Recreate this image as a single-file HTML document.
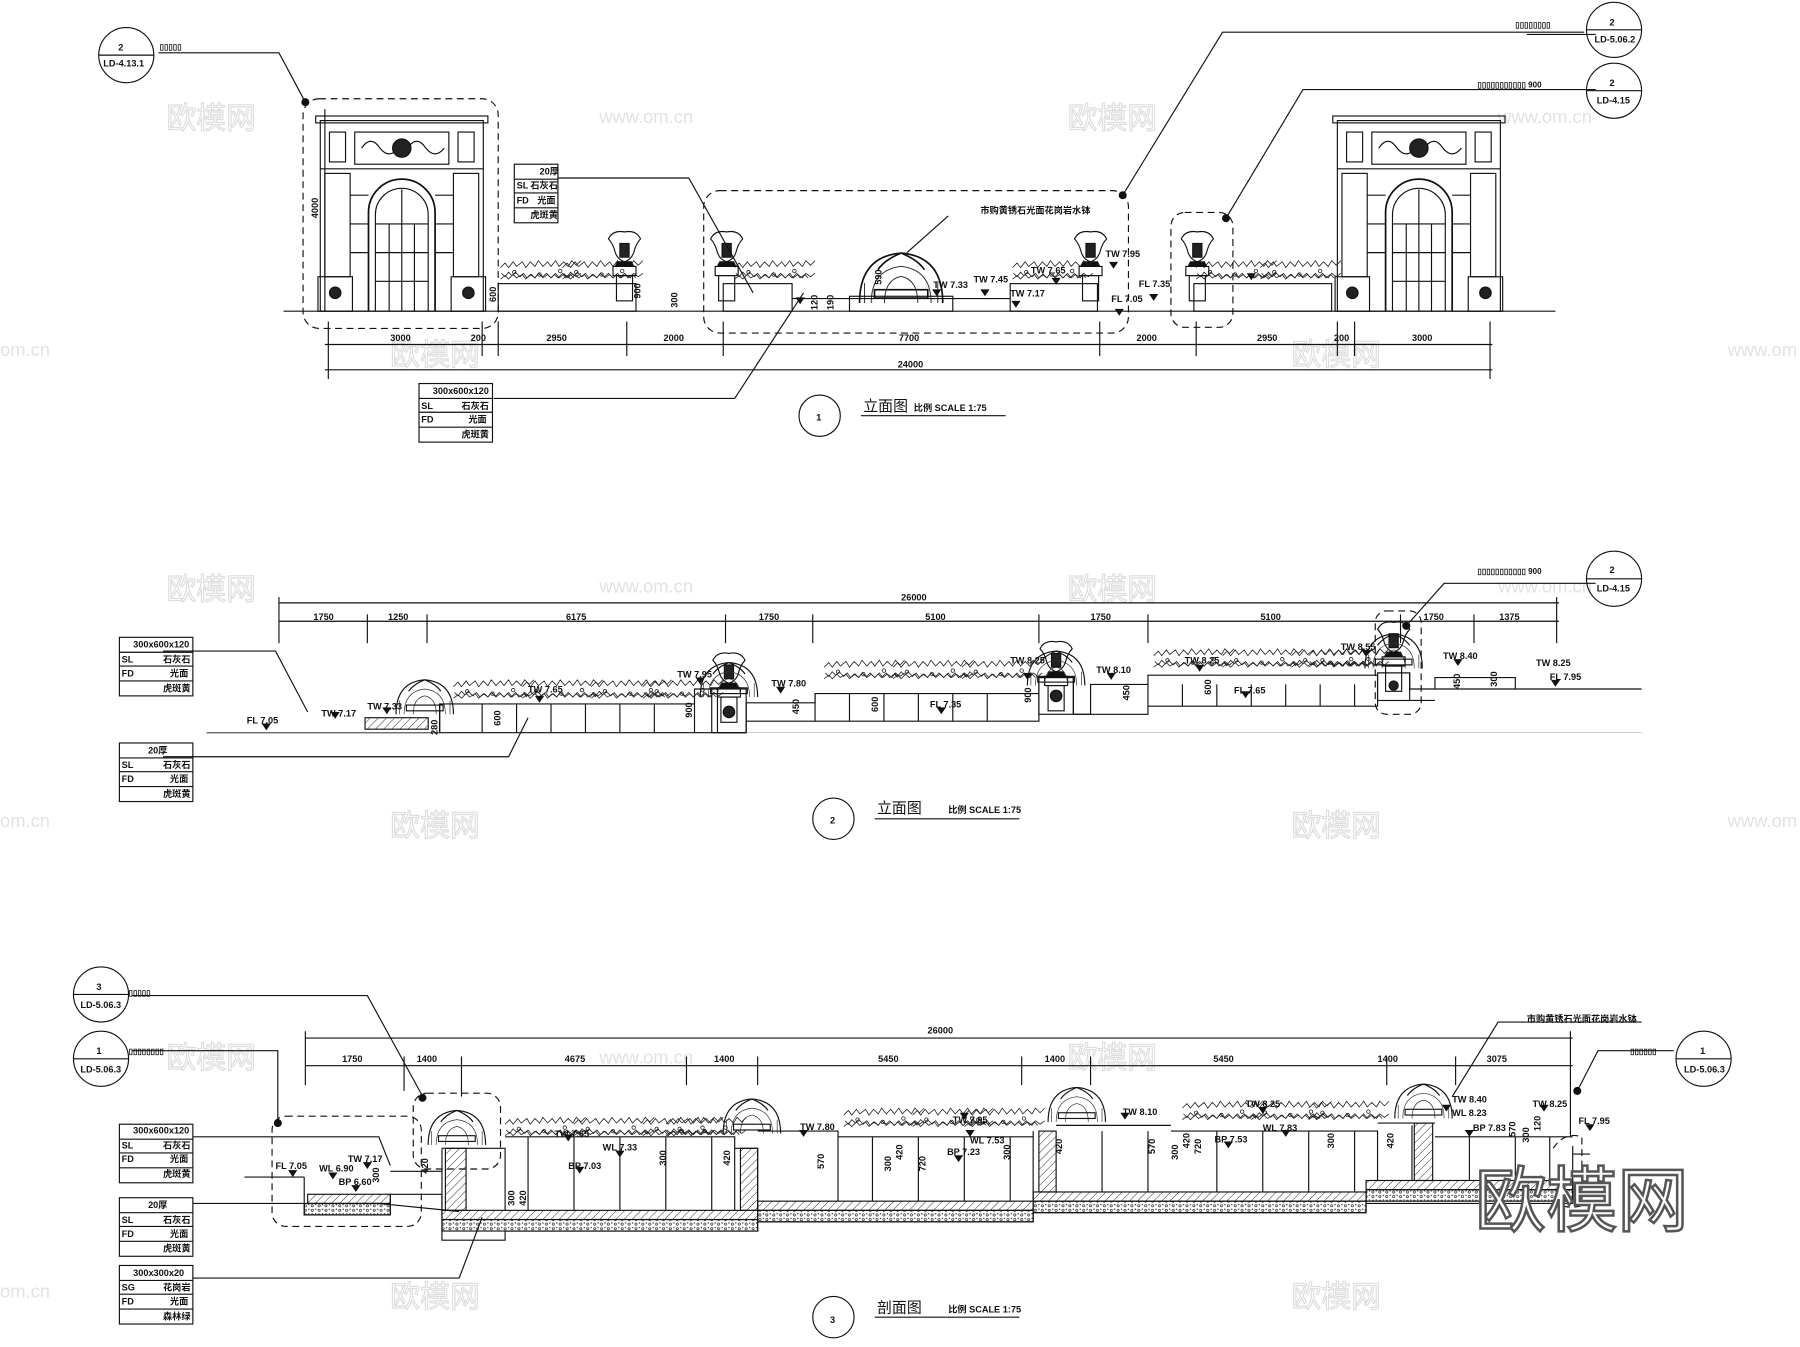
<!DOCTYPE html>
<html><head><meta charset="utf-8">
<style>
html,body{margin:0;padding:0;background:#fff;}
svg{display:block;}
text{font-family:"Liberation Sans","Noto Sans CJK SC",sans-serif;fill:#111;}
</style></head><body>
<svg width="1800" height="1347" viewBox="0 0 1568 1173" preserveAspectRatio="none" xmlns="http://www.w3.org/2000/svg">
<defs>
<pattern id="hat" width="5" height="5" patternUnits="userSpaceOnUse" patternTransform="rotate(45)"><line x1="0" y1="0" x2="0" y2="5" stroke="#222" stroke-width="0.8"/></pattern>
<pattern id="grav" width="6" height="4" patternUnits="userSpaceOnUse"><circle cx="2" cy="2" r="1" fill="none" stroke="#222" stroke-width="0.6"/><circle cx="5" cy="1" r="0.6" fill="#222"/></pattern>
<g id="gate">
 <rect x="0" y="10" width="142" height="166" fill="none" stroke="#111"/>
 <rect x="-4" y="6" width="150" height="6" fill="none" stroke="#111"/>
 <rect x="8" y="20" width="14" height="26" fill="none" stroke="#111"/>
 <rect x="120" y="20" width="14" height="26" fill="none" stroke="#111"/>
 <rect x="30" y="20" width="82" height="28" fill="none" stroke="#111"/>
 <path d="M36 34 q8-12 16 0 q8 10 16 0 M76 34 q8-12 16 0 q8 10 16 0" fill="none" stroke="#111"/>
 <circle cx="71" cy="34" r="8" fill="#222"/>
 <line x1="0" y1="52" x2="142" y2="52" stroke="#111"/>
 <rect x="4" y="56" width="22" height="90" fill="none" stroke="#111"/>
 <rect x="116" y="56" width="22" height="90" fill="none" stroke="#111"/>
 <rect x="-2" y="146" width="30" height="30" fill="none" stroke="#111"/>
 <rect x="114" y="146" width="30" height="30" fill="none" stroke="#111"/>
 <circle cx="13" cy="160" r="5" fill="#222"/><circle cx="129" cy="160" r="5" fill="#222"/>
 <path d="M42 176 V90 A29 29 0 0 1 100 90 V176" fill="none" stroke="#111" stroke-width="1.5"/>
 <path d="M48 176 V92 A23 23 0 0 1 94 92 V176" fill="none" stroke="#111"/>
 <line x1="60" y1="100" x2="60" y2="176" stroke="#111"/><line x1="71" y1="70" x2="71" y2="176" stroke="#111"/><line x1="82" y1="100" x2="82" y2="176" stroke="#111"/>
 <line x1="48" y1="100" x2="94" y2="100" stroke="#111"/><line x1="48" y1="125" x2="94" y2="125" stroke="#111"/><line x1="48" y1="150" x2="94" y2="150" stroke="#111"/>
 <line x1="26" y1="75" x2="42" y2="75" stroke="#111"/><line x1="26" y1="100" x2="42" y2="100" stroke="#111"/><line x1="26" y1="125" x2="42" y2="125" stroke="#111"/>
 <line x1="100" y1="75" x2="116" y2="75" stroke="#111"/><line x1="100" y1="100" x2="116" y2="100" stroke="#111"/><line x1="100" y1="125" x2="116" y2="125" stroke="#111"/>
</g>
<g id="urn">
 <path d="M-14 0 q4-8 14-6 q10-2 14 6 q-4 4 -6 12 q-2 6 -8 8 q-6-2 -8-8 q-2-8-6-12z" fill="none" stroke="#111"/>
 <path d="M-4 4 h8 v12 h-8z" fill="#222"/>
 <path d="M-6 20 h12 l2 4 h-16z" fill="#111"/>
 <rect x="-10" y="24" width="20" height="8" fill="none" stroke="#111"/>
 <rect x="-7" y="32" width="14" height="22" fill="none" stroke="#111"/>
</g>
<g id="fount">
 <path d="M-25 22 q0-28 25-30 q25 2 25 30" fill="none" stroke="#111"/>
 <path d="M-18 22 q0-20 18-22 q18 2 18 22 M-10 22 q0-14 10-16 q10 2 10 16 M-22 10 v12 M22 10 v12" fill="none" stroke="#333" stroke-width="0.6"/>
 <path d="M0 -8 q-10 4-14 10 M0 -8 q10 4 14 10" fill="none" stroke="#111"/>
 <rect x="-16" y="14" width="32" height="5" fill="none" stroke="#111"/>
</g>
<g id="shrub" fill="none" stroke="#222" stroke-width="0.7">
 <path d="M0 3 l4-4 3 4 4-5 3 4 5-4 3 5 4-5 4 4 3-5 4 5 4-4 3 4 4-5 3 5 4-4 4 4 3-5 4 4 4-4"/>
 <path d="M1 8 l3 3 3-4 3 3 3-3 4 4 3-3 3 4 4-3 3 3 3-4 4 3 3-3 4 4 3-3 3 3 4-4 3 4 4-3 3 3"/>
 <path d="M0 13 l4-3 3 3 4-4 3 3 5-3 3 4 4-4 4 3 3-4 4 4 4-3 3 3 4-4 3 4 4-3 4 3 3-4 4 3 4-3"/>
 <circle cx="12" cy="7" r="1.5"/><circle cx="34" cy="9" r="1.5"/><circle cx="52" cy="6" r="1.5"/>
</g>
</defs>

<g font-family="Liberation Sans,Noto Sans CJK SC,sans-serif" font-size="26">
<text x="145" y="112" style="fill:none;stroke:#ddd">欧模网</text><text x="930" y="112" style="fill:none;stroke:#ddd">欧模网</text>
<text x="340" y="318" style="fill:none;stroke:#ddd">欧模网</text><text x="1125" y="318" style="fill:none;stroke:#ddd">欧模网</text>
<text x="145" y="522" style="fill:none;stroke:#ddd">欧模网</text><text x="930" y="522" style="fill:none;stroke:#ddd">欧模网</text>
<text x="340" y="728" style="fill:none;stroke:#ddd">欧模网</text><text x="1125" y="728" style="fill:none;stroke:#ddd">欧模网</text>
<text x="145" y="930" style="fill:none;stroke:#ddd">欧模网</text><text x="930" y="930" style="fill:none;stroke:#ddd">欧模网</text>
<text x="340" y="1138" style="fill:none;stroke:#ddd">欧模网</text><text x="1125" y="1138" style="fill:none;stroke:#ddd">欧模网</text>
</g>
<g font-size="16">
<text x="522" y="107" style="fill:#e2e2e2">www.om.cn</text><text x="1305" y="107" style="fill:#e2e2e2">www.om.cn</text>
<text x="0" y="310" style="fill:#e2e2e2">om.cn</text><text x="1505" y="310" style="fill:#e2e2e2">www.om</text>
<text x="522" y="516" style="fill:#e2e2e2">www.om.cn</text><text x="1305" y="516" style="fill:#e2e2e2">www.om.cn</text>
<text x="0" y="720" style="fill:#e2e2e2">om.cn</text><text x="1505" y="720" style="fill:#e2e2e2">www.om</text>
<text x="522" y="926" style="fill:#e2e2e2">www.om.cn</text><text x="0" y="1130" style="fill:#e2e2e2">om.cn</text>
</g>

<g stroke="#111" fill="none" stroke-width="1">
<!-- ===== SECTION 1 ===== -->
<line x1="247" y1="271" x2="1355" y2="271"/>
<use href="#gate" x="279" y="95"/>
<use href="#gate" x="1165" y="95"/>
<rect x="434" y="247" width="120" height="24"/>
<use href="#shrub" x="436" y="230"/><use href="#shrub" x="490" y="230"/>
<use href="#urn" x="544" y="208"/>
<rect x="1040" y="247" width="120" height="24"/>
<use href="#shrub" x="1042" y="230"/><use href="#shrub" x="1098" y="230"/>
<use href="#urn" x="1043" y="208"/>
<rect x="630" y="247" width="60" height="24"/>
<use href="#urn" x="633" y="208"/>
<use href="#shrub" x="640" y="230"/>
<rect x="880" y="247" width="76" height="24"/>
<use href="#urn" x="950" y="208"/>
<use href="#shrub" x="882" y="230"/>
<use href="#fount" transform="translate(785 232) scale(1.45)"/>
<rect x="740" y="258" width="90" height="13"/>
<line x1="690" y1="260" x2="880" y2="260"/>
<rect x="264" y="86" width="170" height="200" rx="14" stroke-dasharray="6,4"/>
<rect x="613" y="166" width="370" height="124" rx="14" stroke-dasharray="6,4"/>
<rect x="1020" y="185" width="54" height="100" rx="12" stroke-dasharray="6,4"/>
<line x1="283" y1="300" x2="1300" y2="300"/>
<line x1="283" y1="322" x2="1300" y2="322"/>
<path d="M286 280 V330 M420 280 V310 M434 280 V310 M546 280 V310 M630 280 V310 M958 280 V310 M1042 280 V310 M1165 280 V310 M1180 280 V310 M1298 280 V330"/>
<line x1="283" y1="95" x2="283" y2="271"/>
<path d="M138 46 H243 L266 89"/>
<path d="M1390 30 H1330 M1380 28 L1065 28 L978 170"/>
<path d="M1390 78 H1135 L1068 190"/>
<path d="M486 155 H600 L656 255"/>
<path d="M430 347 H640 L700 255"/>
<path d="M826 188 L790 220"/>
<circle cx="266" cy="89" r="3" fill="#111"/><circle cx="978" cy="170" r="3" fill="#111"/><circle cx="1068" cy="190" r="3" fill="#111"/>
<circle cx="110" cy="48" r="24"/><line x1="86" y1="48" x2="134" y2="48"/>
<circle cx="1406" cy="26" r="24"/><line x1="1382" y1="26" x2="1430" y2="26"/>
<circle cx="1406" cy="79" r="24"/><line x1="1382" y1="79" x2="1430" y2="79"/>
<rect x="448" y="143" width="38" height="51"/><path d="M448 156 H486 M448 168 H486 M448 181 H486"/>
<rect x="365" y="334" width="64" height="51"/><path d="M365 347 H429 M365 359 H429 M365 372 H429"/>
<circle cx="714" cy="362" r="18"/><line x1="750" y1="362" x2="876" y2="362"/>

<!-- ===== SECTION 2 ===== -->
<path d="M180 638 H383 V613 H605 V600 H625 V638 H650 V612 H710 V604 H905 V590 H935 V622 H950 V596 H1000 V588 H1200 V586 H1228 V600 H1250 V590 H1320 V600 H1430"/>
<line x1="180" y1="638" x2="1430" y2="638" stroke-width="0.5" stroke="#999"/>
<line x1="383" y1="638" x2="650" y2="638"/>
<path d="M383 613 V638 M605 613 V638"/>
<path d="M650 628 H710 V604 M710 628 V604 M710 628 H905 V604 M935 622 H1000 V596 M1000 615 H1200 V588 M1228 610 H1250 M1250 600 H1320"/>
<path d="M420 613 V638 M450 613 V638 M480 613 V638 M510 613 V638 M540 613 V638 M570 613 V638 M740 604 V628 M770 604 V628 M800 604 V628 M830 604 V628 M860 604 V628 M1030 596 V615 M1060 596 V615 M1090 596 V615 M1120 596 V615 M1150 596 V615 M1180 596 V615"/>
<rect x="620" y="600" width="30" height="38"/><rect x="905" y="590" width="30" height="32"/><rect x="1200" y="586" width="28" height="24"/>
<circle cx="635" cy="620" r="5" fill="#222"/><circle cx="920" cy="606" r="5" fill="#222"/><circle cx="1214" cy="597" r="4" fill="#222"/>
<use href="#urn" x="635" y="575"/><use href="#urn" x="920" y="565"/><use href="#urn" x="1214" y="548"/>
<use href="#fount" x="370" y="600"/><use href="#fount" x="635" y="585"/><use href="#fount" x="920" y="575"/><use href="#fount" x="1214" y="560"/>
<rect x="318" y="625" width="55" height="10" fill="url(#hat)"/>
<use href="#shrub" x="395" y="595"/><use href="#shrub" x="455" y="595"/><use href="#shrub" x="515" y="595"/><use href="#shrub" x="560" y="595"/>
<use href="#shrub" x="718" y="578"/><use href="#shrub" x="778" y="578"/><use href="#shrub" x="838" y="578"/>
<use href="#shrub" x="1005" y="568"/><use href="#shrub" x="1065" y="568"/><use href="#shrub" x="1125" y="568"/><use href="#shrub" x="1140" y="568"/>
<rect x="1198" y="532" width="40" height="90" rx="10" stroke-dasharray="6,4"/>
<line x1="243" y1="525" x2="1358" y2="525"/>
<line x1="243" y1="541" x2="1358" y2="541"/>
<path d="M243 520 V560 M320 535 V560 M372 535 V560 M632 535 V560 M708 535 V560 M905 535 V560 M1000 535 V560 M1220 535 V560 M1284 535 V560 M1356 520 V560"/>
<path d="M142 567 H240 L268 620"/>
<path d="M142 659 H443 L460 625"/>
<path d="M1390 508 H1258 L1225 545"/><circle cx="1225" cy="545" r="3" fill="#111"/>
<circle cx="1406" cy="504" r="24"/><line x1="1382" y1="504" x2="1430" y2="504"/>
<rect x="104" y="555" width="64" height="51"/><path d="M104 568 H168 M104 580 H168 M104 593 H168"/>
<rect x="104" y="647" width="64" height="51"/><path d="M104 660 H168 M104 672 H168 M104 685 H168"/>
<circle cx="726" cy="713" r="18"/><line x1="762" y1="713" x2="888" y2="713"/>

<!-- ===== SECTION 3 ===== -->
<path d="M213 1025 H265 M265 1025 V1058 H340 V1040 H385 V1080 H440 V1072 H660 V1064 H900 V1056 H1190 V1048 H1370 V1005 H1385 M1370 998 V1030"/>
<rect x="265" y="1048" width="75" height="10" fill="url(#grav)"/>
<rect x="385" y="1062" width="275" height="10" fill="url(#grav)"/>
<rect x="660" y="1054" width="240" height="10" fill="url(#grav)"/>
<rect x="900" y="1046" width="290" height="10" fill="url(#grav)"/>
<rect x="1190" y="1036" width="180" height="10" fill="url(#grav)"/>
<rect x="385" y="1054" width="275" height="8" fill="url(#hat)"/>
<rect x="660" y="1046" width="240" height="8" fill="url(#hat)"/>
<rect x="900" y="1038" width="290" height="8" fill="url(#hat)"/>
<rect x="1190" y="1028" width="180" height="8" fill="url(#hat)"/>
<rect x="268" y="1040" width="72" height="8" fill="url(#hat)"/>
<path d="M340 1020 H385 M385 1000 V1054 M440 990 H640 V1054 M660 985 H730 V1046 M730 990 H900 M920 980 H1020 M1020 985 H1180 V1038 M1200 978 H1250 M1250 990 H1370"/>
<path d="M385 1000 H440 V1054 M640 1000 H660 V1054 M900 985 V1046 M1180 985 H1200 V1028 M1230 980 V1028"/>
<path d="M460 990 V1054 M500 990 V1054 M540 990 V1054 M580 990 V1054 M620 990 V1054 M760 990 V1046 M800 990 V1046 M840 990 V1046 M880 990 V1046 M960 985 V1038 M1000 985 V1038 M1060 985 V1038 M1100 985 V1038 M1140 985 V1038 M1280 990 V1028 M1320 990 V1028 M1350 990 V1028"/>
<rect x="388" y="1000" width="18" height="54" fill="url(#hat)"/>
<rect x="645" y="1000" width="15" height="54" fill="url(#hat)"/>
<rect x="905" y="985" width="15" height="53" fill="url(#hat)"/>
<rect x="1232" y="978" width="16" height="50" fill="url(#hat)"/>
<use href="#fount" x="398" y="975"/><use href="#fount" x="655" y="965"/><use href="#fount" x="938" y="955"/><use href="#fount" x="1240" y="952"/>
<use href="#shrub" x="440" y="976"/><use href="#shrub" x="500" y="976"/><use href="#shrub" x="560" y="976"/><use href="#shrub" x="580" y="976"/>
<use href="#shrub" x="735" y="968"/><use href="#shrub" x="795" y="968"/><use href="#shrub" x="840" y="968"/>
<use href="#shrub" x="1030" y="962"/><use href="#shrub" x="1090" y="962"/><use href="#shrub" x="1140" y="962"/>
<rect x="237" y="972" width="130" height="96" rx="12" stroke-dasharray="6,4"/>
<rect x="360" y="952" width="76" height="66" rx="12" stroke-dasharray="6,4"/>
<path d="M1353 1000 q10-15 25-10 V1050 q-20 5-25-10" stroke-dasharray="6,4"/>
<line x1="266" y1="904" x2="1370" y2="904"/>
<line x1="266" y1="928" x2="1370" y2="928"/>
<path d="M266 898 V945 M352 920 V950 M402 920 V955 M598 920 V945 M660 920 V945 M890 920 V945 M950 920 V945 M1208 920 V945 M1268 920 V945 M1368 898 V990"/>
<path d="M115 867 H320 L370 958"/><circle cx="368" cy="956" r="3" fill="#111"/>
<path d="M115 915 H242 L242 980"/><circle cx="242" cy="978" r="3" fill="#111"/>
<path d="M1458 915 H1392 L1374 950"/><circle cx="1374" cy="950" r="3" fill="#111"/>
<path d="M1430 890 H1305 L1265 955"/>
<path d="M168 990 H330 L340 1015"/>
<path d="M168 1048 H330 L400 1055"/>
<path d="M168 1113 H400 L420 1060"/>
<circle cx="88" cy="866" r="24"/><line x1="64" y1="866" x2="112" y2="866"/>
<circle cx="88" cy="922" r="24"/><line x1="64" y1="922" x2="112" y2="922"/>
<circle cx="1484" cy="922" r="24"/><line x1="1460" y1="922" x2="1508" y2="922"/>
<rect x="104" y="979" width="64" height="51"/><path d="M104 992 H168 M104 1004 H168 M104 1017 H168"/>
<rect x="104" y="1043" width="64" height="51"/><path d="M104 1056 H168 M104 1068 H168 M104 1081 H168"/>
<rect x="104" y="1102" width="64" height="51"/><path d="M104 1115 H168 M104 1127 H168 M104 1140 H168"/>
<circle cx="726" cy="1147" r="18"/><line x1="762" y1="1147" x2="888" y2="1147"/>
</g>

<g fill="#111">
<path d="M816 258 l4-6 h-8z M858 258 l4-6 h-8z M885 268 l4-6 h-8z M920 248 l4-6 h-8z M970 234 l4-6 h-8z M1005 262 l4-6 h-8z M975 275 l4-6 h-8z M1090 244 l4-6 h-8z M697 265 l4-6 h-8z"/>
<path d="M232 636 l4-6 h-8z M292 626 l4-6 h-8z M337 622 l4-6 h-8z M470 612 l4-6 h-8z M610 596 l4-6 h-8z M680 604 l4-6 h-8z M820 622 l4-6 h-8z M895 592 l4-6 h-8z M968 592 l4-6 h-8z M1045 585 l4-6 h-8z M1085 608 l4-6 h-8z M1190 572 l4-6 h-8z M1270 580 l4-6 h-8z M1355 598 l4-6 h-8z"/>
<path d="M255 1025 l4-6 h-8z M290 1027 l4-6 h-8z M310 1038 l4-6 h-8z M320 1018 l4-6 h-8z M495 994 l4-6 h-8z M505 1022 l4-6 h-8z M540 1008 l4-6 h-8z M700 990 l4-6 h-8z M835 1012 l4-6 h-8z M845 990 l4-6 h-8z M840 975 l4-6 h-8z M980 975 l4-6 h-8z M1070 1000 l4-6 h-8z M1120 990 l4-6 h-8z M1100 970 l4-6 h-8z M1260 968 l4-6 h-8z M1280 990 l4-6 h-8z M1345 968 l4-6 h-8z M1385 985 l4-6 h-8z"/>
</g>

<g font-size="8" font-weight="bold">
<text x="103" y="44">2</text><text x="90" y="58">LD-4.13.1</text>
<text x="139" y="43" font-size="7">▯▯▯▯▯</text>
<text x="1402" y="22">2</text><text x="1389" y="37">LD-5.06.2</text>
<text x="1320" y="24" font-size="7">▯▯▯▯▯▯▯▯</text>
<text x="1402" y="75">2</text><text x="1391" y="90">LD-4.15</text>
<text x="1287" y="76" font-size="7">▯▯▯▯▯▯▯▯▯▯▯ 900</text>
<text x="277" y="190" transform="rotate(-90 277 190)">4000</text>
<text x="470" y="152">20厚</text>
<text x="450" y="164">SL</text><text x="462" y="164">石灰石</text>
<text x="450" y="177">FD</text><text x="468" y="177">光面</text>
<text x="462" y="190">虎斑黄</text>
<text x="377" y="343">300x600x120</text>
<text x="367" y="356">SL</text><text x="402" y="356">石灰石</text>
<text x="367" y="368">FD</text><text x="408" y="368">光面</text>
<text x="402" y="381">虎斑黄</text>
<text x="854" y="186">市购黄锈石光面花岗岩水钵</text>
<text x="813" y="251">TW 7.33</text><text x="848" y="246">TW 7.45</text><text x="898" y="238">TW 7.65</text>
<text x="963" y="224">TW 7.95</text><text x="992" y="250">FL 7.35</text><text x="880" y="258">TW 7.17</text><text x="968" y="263">FL 7.05</text>
<text x="432" y="263" transform="rotate(-90 432 263)">600</text>
<text x="558" y="260" transform="rotate(-90 558 260)">900</text>
<text x="590" y="268" transform="rotate(-90 590 268)">300</text>
<text x="712" y="270" transform="rotate(-90 712 270)">120</text>
<text x="726" y="270" transform="rotate(-90 726 270)">190</text>
<text x="768" y="248" transform="rotate(-90 768 248)">590</text>
<text x="340" y="297">3000</text><text x="410" y="297">200</text><text x="476" y="297">2950</text><text x="578" y="297">2000</text>
<text x="783" y="297">7700</text><text x="990" y="297">2000</text><text x="1095" y="297">2950</text><text x="1162" y="297">200</text><text x="1230" y="297">3000</text>
<text x="782" y="320">24000</text>
<text x="711" y="366">1</text>
<text x="752" y="358" font-size="13" font-weight="normal">立面图</text><text x="796" y="358">比例 SCALE 1:75</text>

<text x="785" y="523">26000</text>
<text x="273" y="540">1750</text><text x="338" y="540">1250</text><text x="493" y="540">6175</text><text x="661" y="540">1750</text>
<text x="806" y="540">5100</text><text x="950" y="540">1750</text><text x="1098" y="540">5100</text><text x="1240" y="540">1750</text><text x="1306" y="540">1375</text>
<text x="1402" y="499">2</text><text x="1391" y="515">LD-4.15</text>
<text x="1287" y="500" font-size="7">▯▯▯▯▯▯▯▯▯▯▯ 900</text>
<text x="116" y="564">300x600x120</text>
<text x="106" y="577">SL</text><text x="142" y="577">石灰石</text>
<text x="106" y="589">FD</text><text x="148" y="589">光面</text><text x="142" y="602">虎斑黄</text>
<text x="129" y="656">20厚</text>
<text x="106" y="669">SL</text><text x="142" y="669">石灰石</text>
<text x="106" y="681">FD</text><text x="148" y="681">光面</text><text x="142" y="694">虎斑黄</text>
<text x="215" y="630">FL 7.05</text><text x="280" y="624">TW 7.17</text><text x="320" y="618">TW 7.33</text><text x="460" y="603">TW 7.65</text>
<text x="590" y="590">TW 7.95</text><text x="672" y="598">TW 7.80</text><text x="810" y="616">FL 7.35</text><text x="880" y="578">TW 8.25</text>
<text x="955" y="586">TW 8.10</text><text x="1032" y="578">TW 8.25</text><text x="1075" y="604">FL 7.65</text><text x="1168" y="566">TW 8.55</text>
<text x="1257" y="574">TW 8.40</text><text x="1338" y="580">TW 8.25</text><text x="1350" y="592">FL 7.95</text>
<text x="436" y="632" transform="rotate(-90 436 632)">600</text>
<text x="603" y="625" transform="rotate(-90 603 625)">900</text>
<text x="696" y="622" transform="rotate(-90 696 622)">450</text>
<text x="765" y="620" transform="rotate(-90 765 620)">600</text>
<text x="898" y="612" transform="rotate(-90 898 612)">900</text>
<text x="984" y="610" transform="rotate(-90 984 610)">450</text>
<text x="1055" y="605" transform="rotate(-90 1055 605)">600</text>
<text x="1272" y="600" transform="rotate(-90 1272 600)">450</text>
<text x="1304" y="598" transform="rotate(-90 1304 598)">300</text>
<text x="381" y="640" transform="rotate(-90 381 640)">280</text>
<text x="723" y="717">2</text>
<text x="764" y="708" font-size="13" font-weight="normal">立面图</text><text x="826" y="708">比例 SCALE 1:75</text>

<text x="84" y="862">3</text><text x="70" y="878">LD-5.06.3</text>
<text x="112" y="867" font-size="7">▯▯▯▯▯</text>
<text x="84" y="918">1</text><text x="70" y="934">LD-5.06.3</text>
<text x="112" y="918" font-size="7">▯▯▯▯▯▯▯▯</text>
<text x="1481" y="918">1</text><text x="1467" y="934">LD-5.06.3</text>
<text x="1420" y="918" font-size="7">▯▯▯▯▯▯</text>
<text x="808" y="900">26000</text>
<text x="298" y="925">1750</text><text x="363" y="925">1400</text><text x="492" y="925">4675</text><text x="622" y="925">1400</text>
<text x="765" y="925">5450</text><text x="910" y="925">1400</text><text x="1057" y="925">5450</text><text x="1200" y="925">1400</text><text x="1295" y="925">3075</text>
<text x="1330" y="890">市购黄锈石光面花岗岩水钵</text>
<text x="116" y="987">300x600x120</text>
<text x="106" y="1000">SL</text><text x="142" y="1000">石灰石</text>
<text x="106" y="1012">FD</text><text x="148" y="1012">光面</text><text x="142" y="1025">虎斑黄</text>
<text x="129" y="1052">20厚</text>
<text x="106" y="1065">SL</text><text x="142" y="1065">石灰石</text>
<text x="106" y="1077">FD</text><text x="148" y="1077">光面</text><text x="142" y="1090">虎斑黄</text>
<text x="116" y="1111">300x300x20</text>
<text x="106" y="1124">SG</text><text x="142" y="1124">花岗岩</text>
<text x="106" y="1136">FD</text><text x="148" y="1136">光面</text><text x="142" y="1149">森林绿</text>
<text x="240" y="1018">FL 7.05</text><text x="278" y="1020">WL 6.90</text><text x="303" y="1012">TW 7.17</text><text x="295" y="1032">BP 6.60</text>
<text x="483" y="990">TW 7.65</text><text x="495" y="1018">BP 7.03</text><text x="525" y="1002">WL 7.33</text>
<text x="697" y="984">TW 7.80</text><text x="825" y="1006">BP 7.23</text><text x="845" y="996">WL 7.53</text><text x="830" y="978">TW 7.95</text>
<text x="978" y="971">TW 8.10</text><text x="1058" y="995">BP 7.53</text><text x="1100" y="985">WL 7.83</text><text x="1085" y="964">TW 8.25</text>
<text x="1265" y="960">TW 8.40</text><text x="1265" y="972">WL 8.23</text><text x="1283" y="985">BP 7.83</text><text x="1335" y="964">TW 8.25</text><text x="1375" y="979">FL 7.95</text>
<text x="373" y="1022" transform="rotate(-90 373 1022)">420</text>
<text x="448" y="1050" transform="rotate(-90 448 1050)">300</text><text x="458" y="1050" transform="rotate(-90 458 1050)">420</text>
<text x="580" y="1015" transform="rotate(-90 580 1015)">300</text>
<text x="636" y="1015" transform="rotate(-90 636 1015)">420</text>
<text x="718" y="1018" transform="rotate(-90 718 1018)">570</text>
<text x="776" y="1020" transform="rotate(-90 776 1020)">300</text><text x="786" y="1010" transform="rotate(-90 786 1010)">420</text>
<text x="806" y="1020" transform="rotate(-90 806 1020)">720</text>
<text x="880" y="1010" transform="rotate(-90 880 1010)">300</text>
<text x="925" y="1005" transform="rotate(-90 925 1005)">420</text>
<text x="1006" y="1005" transform="rotate(-90 1006 1005)">570</text>
<text x="1026" y="1010" transform="rotate(-90 1026 1010)">300</text><text x="1036" y="1000" transform="rotate(-90 1036 1000)">420</text>
<text x="1046" y="1005" transform="rotate(-90 1046 1005)">720</text>
<text x="1162" y="1000" transform="rotate(-90 1162 1000)">300</text>
<text x="1214" y="1000" transform="rotate(-90 1214 1000)">420</text>
<text x="1320" y="990" transform="rotate(-90 1320 990)">570</text>
<text x="1332" y="995" transform="rotate(-90 1332 995)">300</text><text x="1342" y="985" transform="rotate(-90 1342 985)">120</text>
<text x="330" y="1030" transform="rotate(-90 330 1030)">300</text>
<text x="723" y="1152">3</text>
<text x="764" y="1143" font-size="13" font-weight="normal">剖面图</text><text x="826" y="1143">比例 SCALE 1:75</text>
</g>

<text x="1285" y="1067" font-size="62" style="fill:#fff;stroke:#555;stroke-width:2.2" font-family="Liberation Sans,Noto Sans CJK SC,sans-serif">欧模网</text>
</svg>
</body></html>
